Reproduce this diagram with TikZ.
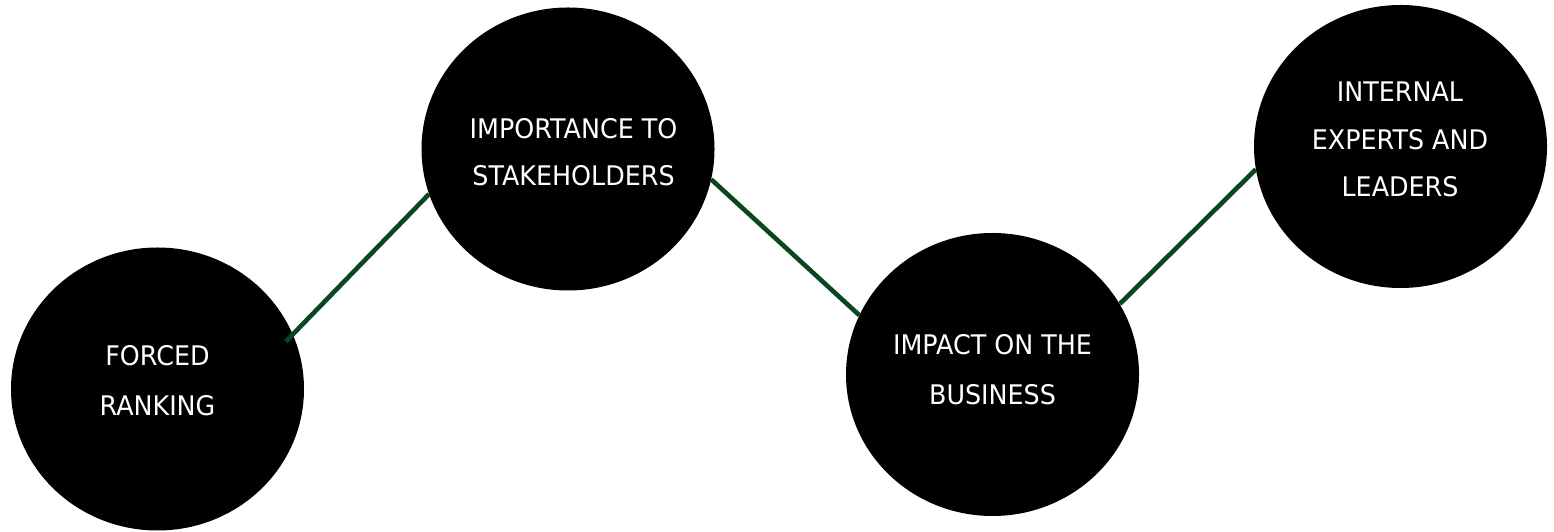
\documentclass[tikz,border=0pt]{standalone}
\usepackage{fontspec}
\setmainfont{DejaVu Sans}[FakeStretch=0.94]
\usetikzlibrary{shapes.geometric}
\definecolor{linkgreen}{RGB}{10,70,30}
\tikzset{
  bubble/.style={ellipse, fill=black, draw=none, minimum width=293pt, minimum height=283pt, inner sep=0pt},
  label/.style={text=white, align=center, inner sep=0pt, font=\fontsize{27}{#1}\selectfont},
  link/.style={draw=linkgreen, line width=4.6pt}
}
\begin{document}
\begin{tikzpicture}[x=1pt,y=1pt]
\useasboundingbox (0,0) rectangle (1554,532);
\node[bubble] (A) at (157.5,143) {};
\node[bubble] (B) at (568,383) {};
\node[bubble] (C) at (992.5,157.5) {};
\node[bubble] (D) at (1400.5,385.5) {};
\node[label=50] (tA) at (157.5,151) {FORCED\\RANKING};
\node[label=47] (tB) at (573.5,380) {IMPORTANCE TO\\STAKEHOLDERS};
\node[label=50] (tC) at (992.5,162) {IMPACT ON THE\\BUSINESS};
\node[label=47.5] (tD) at (1400,392.5) {INTERNAL\\EXPERTS AND\\LEADERS};
\draw[link, shorten <=-10pt] (A.22.5) -- (B.198.9);
\draw[link] (B.-12.9) -- (C.156.9);
\draw[link] (C.29.3) -- (D.189.2);
\end{tikzpicture}
\end{document}
